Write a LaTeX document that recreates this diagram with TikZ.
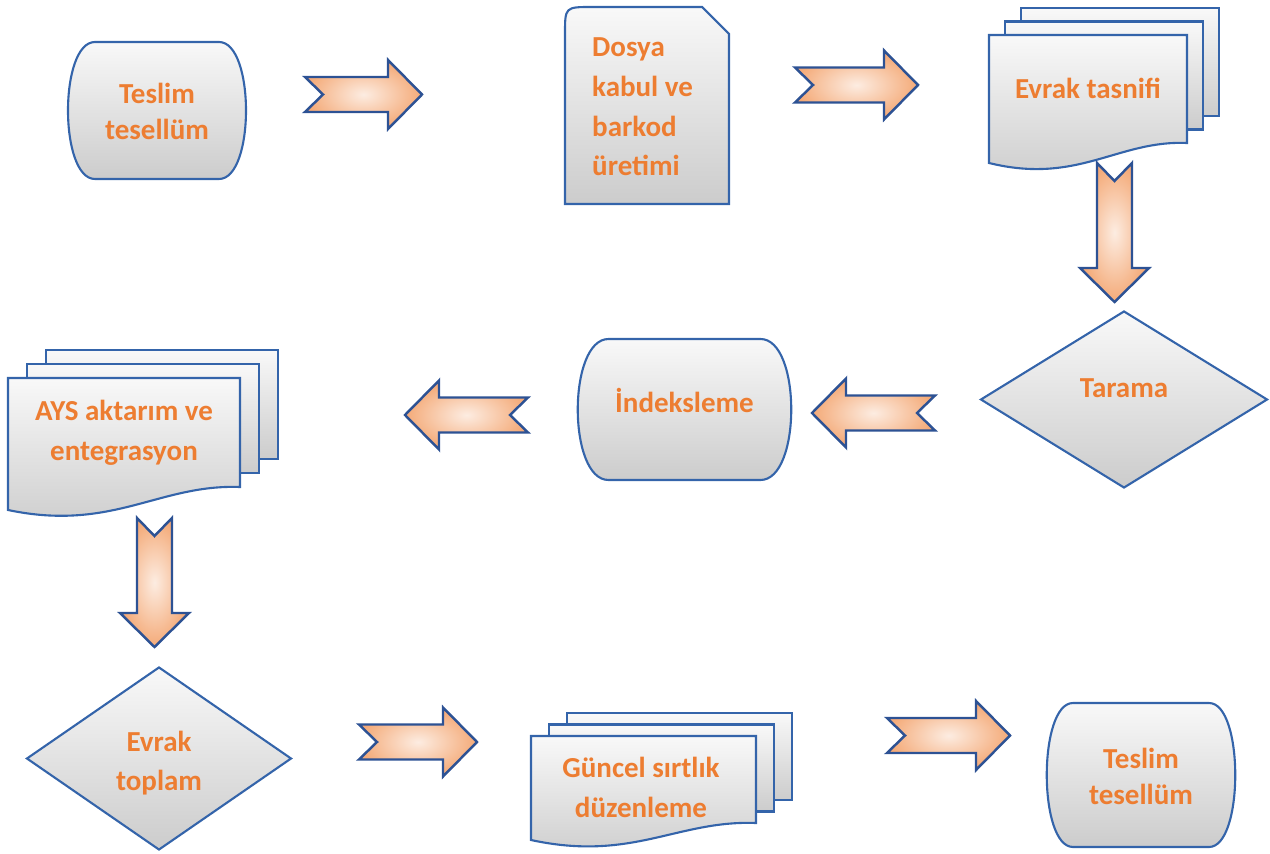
\documentclass[tikz,border=0pt]{standalone}
\usepackage{fontspec}
\setmainfont{Carlito}
\usetikzlibrary{shapes.geometric}
\definecolor{boxline}{RGB}{52,100,170}
\definecolor{arrowline}{RGB}{45,82,148}
\definecolor{peach}{RGB}{244,170,120}
\definecolor{labelorange}{RGB}{237,125,49}
\tikzset{
  boxshape/.style={draw=boxline, line width=1.2pt, top color=gray!5, bottom color=gray!40},
  arrowshape/.style={draw=arrowline, line width=1.4pt, line join=miter, inner color=peach!22, outer color=peach},
  lbl/.style={text=labelorange, font=\bfseries\fontsize{16.5}{22.5}\selectfont, align=center},
  decision/.style={boxshape, diamond, inner sep=0pt},
}
% centre x, centre y, half flat width, bulge, half height
\newcommand{\bulgebox}[5]{%
  \draw[boxshape] ({#1-#3},{#2-#5}) -- ({#1+#3},{#2-#5})
    .. controls ({#1+#3+#4},{#2-#5}) and ({#1+#3+#4},{#2+#5}) .. ({#1+#3},{#2+#5})
    -- ({#1-#3},{#2+#5})
    .. controls ({#1-#3-#4},{#2+#5}) and ({#1-#3-#4},{#2-#5}) .. ({#1-#3},{#2-#5}) -- cycle;}
% left, top, right, right bottom, wave drop, page dx, page dy
\newcommand{\multidoc}[7]{%
  \draw[boxshape] ({#1+2*#6},{#2-2*#7}) rectangle ({#3+2*#6},{#4-2*#7});
  \draw[boxshape] ({#1+#6},{#2-#7}) rectangle ({#3+#6},{#4-#7});
  \draw[boxshape] (#1,#2) -- (#3,#2) -- (#3,#4)
    .. controls ({#3-0.35*(#3-#1)},{#4-3}) and ({#1+0.45*(#3-#1)},{#4+#5+22}) .. (#1,{#4+#5}) -- cycle;}
% tail coordinate, direction, length
\newcommand{\blockarrow}[3]{%
  \draw[arrowshape, shift={(#1)}, rotate=#2] (0,-17.5) -- ({#3-34},-17.5) -- ({#3-34},-34.5)
    -- (#3,0) -- ({#3-34},34.5) -- ({#3-34},17.5) -- (0,17.5) -- (18,0) -- cycle;}

\begin{document}
\begin{tikzpicture}[x=0.02cm, y=-0.02cm]
  \useasboundingbox (0,0) rectangle (1270,854);

  % top row
  \bulgebox{157}{110.5}{62}{36}{68.5}
  \node[lbl, font=\bfseries\fontsize{16.5}{20.5}\selectfont] (teslimA) at (157,111) {Teslim\\tesellüm};

  \draw[boxshape] (565,204) -- (565,34) .. controls (565,7) .. (592,7) -- (702,7) -- (729,34) -- (729,204) -- cycle;
  \node[lbl, align=left, anchor=west] (dosya) at (586,107) {Dosya\\kabul ve\\barkod\\üretimi};

  \multidoc{989}{35}{1187}{143}{20}{16}{13.5}
  \node[lbl] (tasnif) at (1088,88) {Evrak tasnifi};

  % middle row
  \node[decision, minimum width=5.74cm, minimum height=3.54cm] (tarama) at (1124,399.5) {};
  \node[lbl] (taramaText) at (1124,388) {Tarama};

  \bulgebox{684.5}{409.5}{76}{41}{70.5}
  \node[lbl] (indeks) at (684.5,400) {İndeksleme};

  \multidoc{8}{378}{240}{487}{23}{19}{14}
  \node[lbl] (ays) at (124,433) {AYS aktarım ve\\entegrasyon};

  % bottom row
  \node[decision, minimum width=5.3cm, minimum height=3.66cm] (toplam) at (159,758.5) {};
  \node[lbl] (toplamText) at (159,763) {Evrak\\toplam};

  \multidoc{531}{736}{756}{823}{17}{18}{11.5}
  \node[lbl] (guncel) at (641,787.5) {Güncel sırtlık\\düzenleme};

  \bulgebox{1141}{775}{68}{35}{72}
  \node[lbl, font=\bfseries\fontsize{16.5}{20.5}\selectfont] (teslimB) at (1141,776.5) {Teslim\\tesellüm};

  % block arrows
  \coordinate (a1) at (305,94.5);
  \coordinate (a2) at (795,85);
  \coordinate (a3) at (1114.5,163);
  \coordinate (a4) at (935,413);
  \coordinate (a5) at (528,415);
  \coordinate (a6) at (154.5,518);
  \coordinate (a7) at (359,742);
  \coordinate (a8) at (887,735.5);
  \blockarrow{a1}{0}{117}
  \blockarrow{a2}{0}{123}
  \blockarrow{a3}{-90}{139}
  \blockarrow{a4}{180}{123}
  \blockarrow{a5}{180}{123}
  \blockarrow{a6}{-90}{129}
  \blockarrow{a7}{0}{118}
  \blockarrow{a8}{0}{123}
\end{tikzpicture}
\end{document}
